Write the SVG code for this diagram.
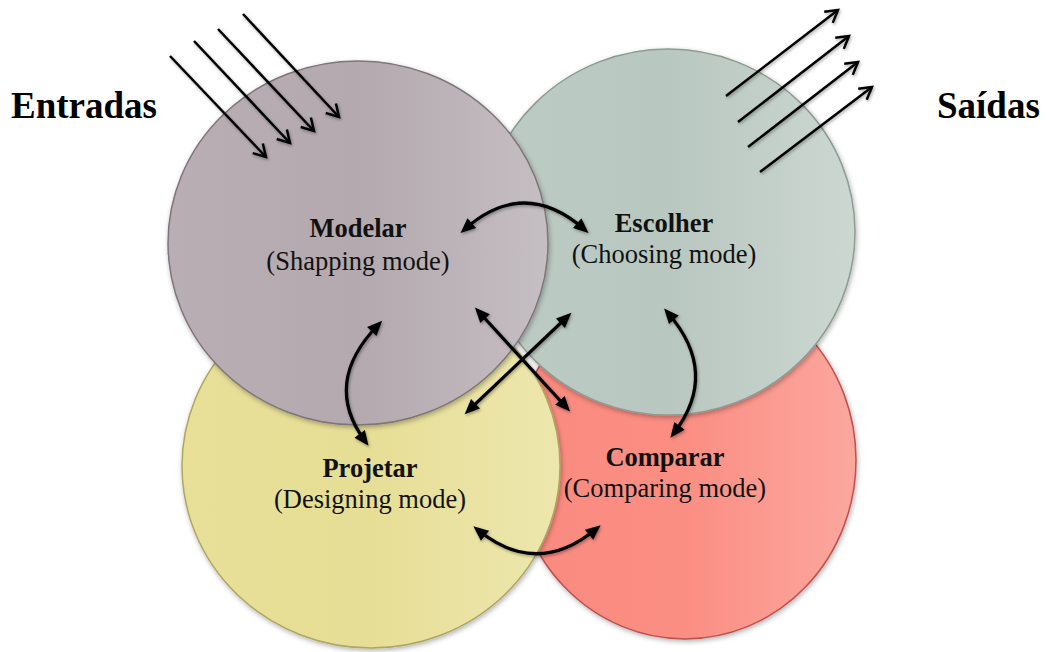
<svg xmlns="http://www.w3.org/2000/svg" width="1050" height="652" viewBox="0 0 1050 652">
  <style>
    .title { font-family: "Liberation Serif", "Times New Roman", serif; font-weight: bold; font-size: 37px; fill: #000; }
    .name  { font-family: "Liberation Serif", "Times New Roman", serif; font-weight: bold; font-size: 26.5px; fill: #111; text-anchor: middle; }
    .mode  { font-family: "Liberation Serif", "Times New Roman", serif; font-size: 26.5px; fill: #111; text-anchor: middle; }
    .flow  { fill: none; stroke: #000; stroke-width: 2.5; }
    .link  { fill: none; stroke: #000; stroke-width: 3.2; }
  </style>
  <defs>
    <linearGradient id="gModelar" x1="0" y1="0" x2="1" y2="0">
      <stop offset="0" stop-color="#b8aeb3"/>
      <stop offset="0.5" stop-color="#b3a9ae"/>
      <stop offset="1" stop-color="#c5bec2"/>
    </linearGradient>
    <linearGradient id="gEscolher" x1="0" y1="0" x2="1" y2="0">
      <stop offset="0" stop-color="#bccbc3"/>
      <stop offset="0.5" stop-color="#b8c7bf"/>
      <stop offset="1" stop-color="#ccd7d1"/>
    </linearGradient>
    <linearGradient id="gProjetar" x1="0" y1="0" x2="1" y2="0">
      <stop offset="0" stop-color="#e8df98"/>
      <stop offset="0.5" stop-color="#e7de96"/>
      <stop offset="1" stop-color="#ede7ae"/>
    </linearGradient>
    <linearGradient id="gComparar" x1="0" y1="0" x2="1" y2="0">
      <stop offset="0" stop-color="#fa8a7f"/>
      <stop offset="0.5" stop-color="#fb8e83"/>
      <stop offset="1" stop-color="#fca79e"/>
    </linearGradient>
    <filter id="shadow" x="-20%" y="-20%" width="140%" height="140%">
      <feDropShadow dx="1" dy="2" stdDeviation="2.5" flood-color="#000" flood-opacity="0.3"/>
    </filter>
    <filter id="lineShadow" x="-20%" y="-20%" width="140%" height="140%">
      <feDropShadow dx="1" dy="1.5" stdDeviation="1.5" flood-color="#000" flood-opacity="0.35"/>
    </filter>
    <!-- filled head for the two-way links -->
    <marker id="head" markerUnits="userSpaceOnUse" markerWidth="16" markerHeight="14" refX="9" refY="6.5" orient="auto-start-reverse" overflow="visible">
      <path d="M0,0 L15,6.5 L0,13 z" fill="#000"/>
    </marker>
    <!-- open chevron head for inputs and outputs -->
    <marker id="open" markerUnits="userSpaceOnUse" markerWidth="16" markerHeight="16" refX="12" refY="7" orient="auto" overflow="visible">
      <path d="M0,0 L12,7 L0,14" fill="none" stroke="#000" stroke-width="2.5" stroke-linejoin="miter"/>
    </marker>
  </defs>

  <rect width="1050" height="652" fill="#fff"/>

  <!-- side titles -->
  <text class="title" x="11" y="118">Entradas</text>
  <text class="title" x="937" y="118">Saídas</text>

  <!-- mode circles (back to front) -->
  <g id="comparar" filter="url(#shadow)">
    <ellipse cx="685" cy="460" rx="171" ry="179" fill="url(#gComparar)" stroke="#c0504d" stroke-width="1.5"/>
  </g>
  <g id="escolher" filter="url(#shadow)">
    <ellipse cx="668" cy="232" rx="187" ry="183" fill="url(#gEscolher)" stroke="#8c9c94" stroke-width="1.5"/>
  </g>
  <g id="projetar" filter="url(#shadow)">
    <ellipse cx="371" cy="466" rx="189" ry="182" fill="url(#gProjetar)" stroke="#aea75e" stroke-width="1.5"/>
  </g>
  <g id="modelar" filter="url(#shadow)">
    <ellipse cx="358" cy="243" rx="190" ry="182" fill="url(#gModelar)" stroke="#7e767a" stroke-width="1.5"/>
  </g>

  <!-- labels -->
  <g id="label-modelar">
    <text class="name" x="358" y="237">Modelar</text>
    <text class="mode" x="358" y="270">(Shapping mode)</text>
  </g>
  <g id="label-escolher">
    <text class="name" x="664" y="232">Escolher</text>
    <text class="mode" x="664" y="263">(Choosing mode)</text>
  </g>
  <g id="label-projetar">
    <text class="name" x="370" y="477">Projetar</text>
    <text class="mode" x="370" y="508">(Designing mode)</text>
  </g>
  <g id="label-comparar">
    <text class="name" x="665" y="466">Comparar</text>
    <text class="mode" x="665" y="497">(Comparing mode)</text>
  </g>

  <!-- connectors -->
  <g id="connectors" filter="url(#lineShadow)">
    <!-- inputs -->
    <line class="flow" x1="170" y1="56" x2="266" y2="157" marker-end="url(#open)"/>
    <line class="flow" x1="194" y1="41" x2="290" y2="143" marker-end="url(#open)"/>
    <line class="flow" x1="218" y1="29" x2="314" y2="131" marker-end="url(#open)"/>
    <line class="flow" x1="243" y1="14" x2="339" y2="117" marker-end="url(#open)"/>
    <!-- outputs -->
    <line class="flow" x1="726" y1="96" x2="838" y2="10" marker-end="url(#open)"/>
    <line class="flow" x1="738" y1="122" x2="849" y2="36" marker-end="url(#open)"/>
    <line class="flow" x1="748" y1="147" x2="858" y2="62" marker-end="url(#open)"/>
    <line class="flow" x1="760" y1="172" x2="872" y2="87" marker-end="url(#open)"/>
    <!-- Modelar / Escolher -->
    <path class="link" d="M465,229 Q524,177 584,229" marker-start="url(#head)" marker-end="url(#head)"/>
    <!-- Modelar / Projetar -->
    <path class="link" d="M378,325 Q322,383 365,441" marker-start="url(#head)" marker-end="url(#head)"/>
    <!-- Modelar / Comparar -->
    <path class="link" d="M479,312 L566,407" marker-start="url(#head)" marker-end="url(#head)"/>
    <!-- Escolher / Projetar -->
    <path class="link" d="M567,317 L469,410" marker-start="url(#head)" marker-end="url(#head)"/>
    <!-- Escolher / Comparar -->
    <path class="link" d="M668,313 Q720,373 674,433" marker-start="url(#head)" marker-end="url(#head)"/>
    <!-- Projetar / Comparar -->
    <path class="link" d="M478,530 Q537,578 596,529" marker-start="url(#head)" marker-end="url(#head)"/>
  </g>
</svg>
